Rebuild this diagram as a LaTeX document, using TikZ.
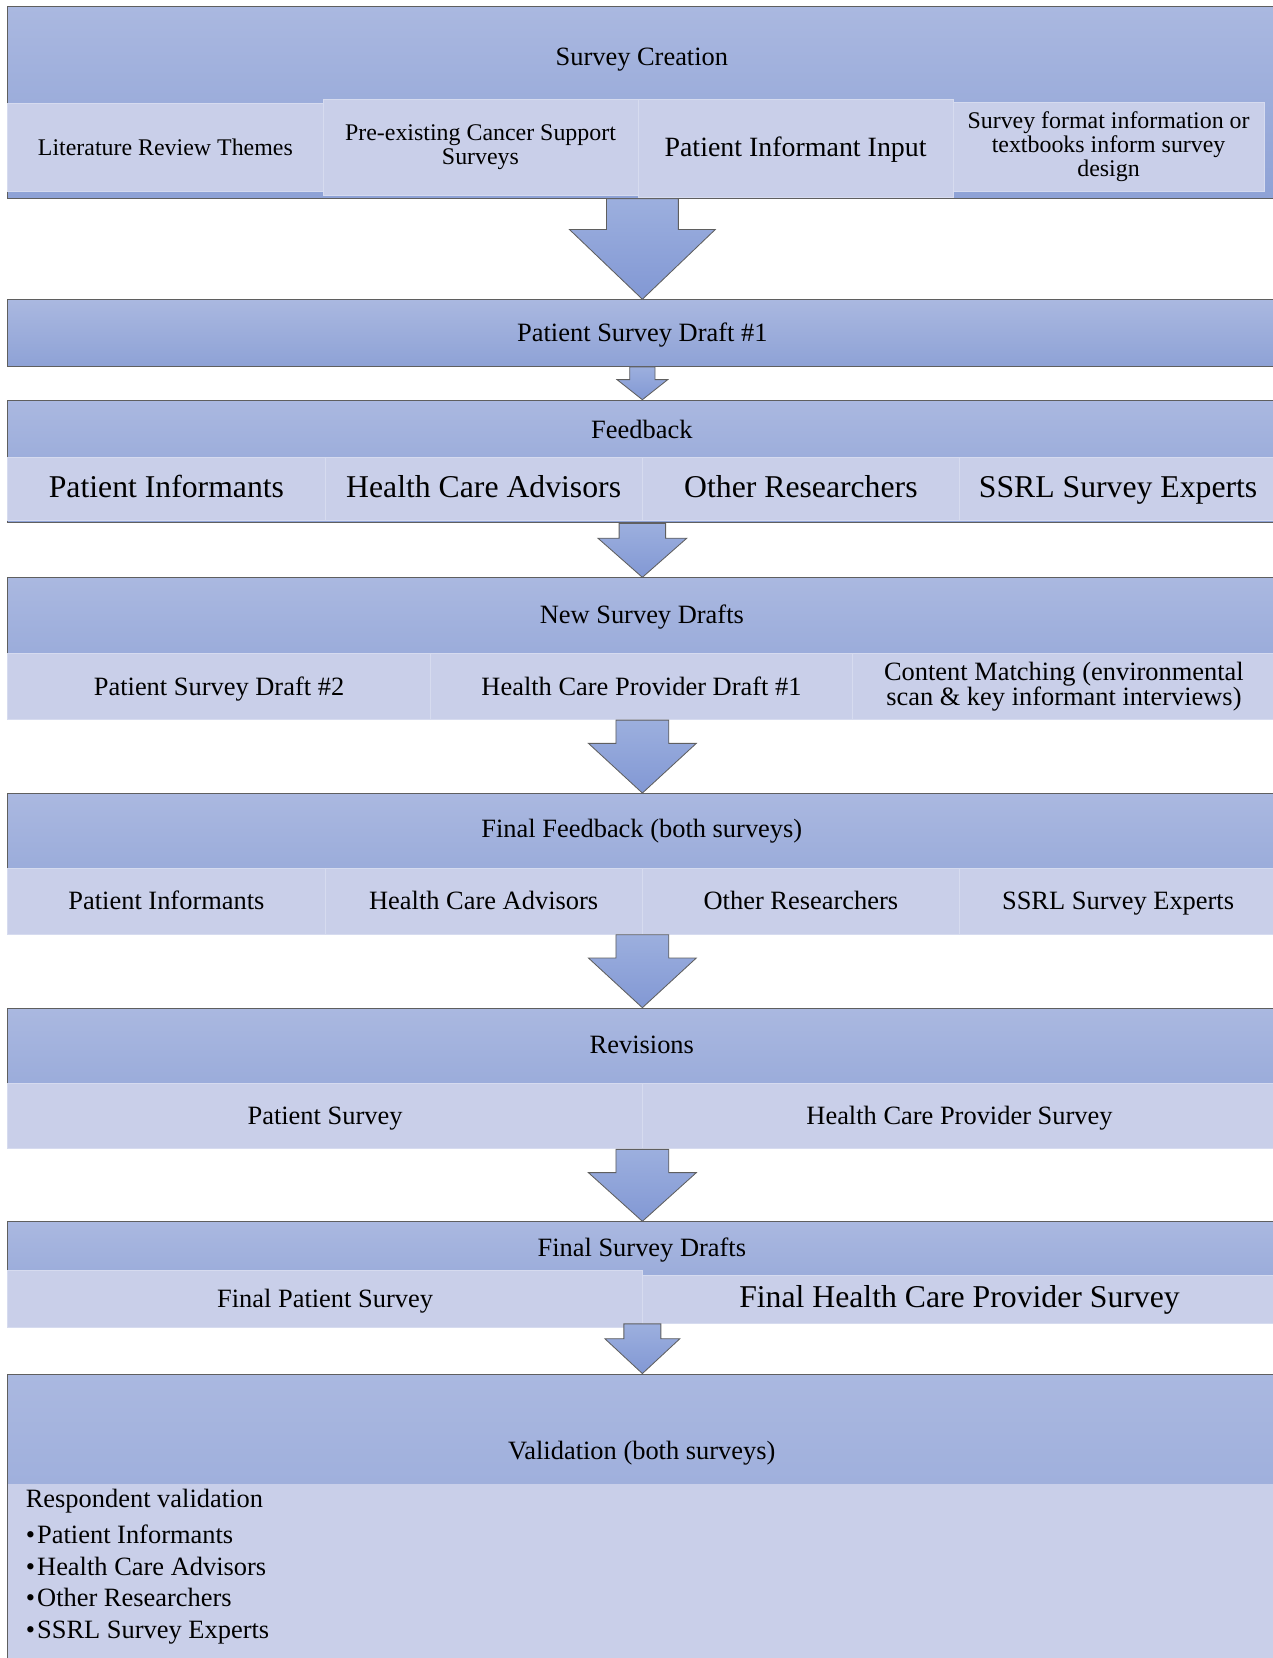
\documentclass[tikz,border=0pt]{standalone}
\usepackage{fontspec}
\setmainfont{Liberation Serif}
\usetikzlibrary{calc}

\definecolor{hdtop}{RGB}{170,184,224}
\definecolor{hdbot}{RGB}{142,162,214}
\definecolor{subfill}{RGB}{201,207,233}
\definecolor{subedge}{RGB}{214,219,239}
\definecolor{arrtop}{RGB}{156,175,222}
\definecolor{arrbot}{RGB}{130,152,212}
\definecolor{edgegray}{RGB}{95,95,95}

\newcommand\fsnorm{\fontsize{12.5}{14}\selectfont}
\newcommand\fsmid{\fontsize{13.2}{15}\selectfont}
\newcommand\fsbig{\fontsize{15}{17}\selectfont}
\newcommand\fssmall{\fontsize{11.3}{11.4}\selectfont}
\newcommand\fslist{\fontsize{12.5}{15}\selectfont}

\tikzset{
  block/.style={rectangle, anchor=north west, draw=edgegray, line width=0.5pt,
    top color=hdtop, bottom color=hdbot, minimum width=600pt, inner sep=0pt},
  subbox/.style={rectangle, anchor=north west, fill=subfill, draw=subedge,
    line width=0.4pt, inner sep=2pt, align=center},
  oneline/.style={text height=2ex, text depth=0.25ex},
  arr/.style={draw=edgegray, line width=0.4pt, top color=arrtop, bottom color=arrbot},
}

\begin{document}
\begin{tikzpicture}[x=0.5pt, y=-0.5pt, font=\fsnorm]
    \useasboundingbox (0,0) rectangle (1203,1568);

    % Survey creation
    \node[block, minimum height=90.5pt] (b1) at (7,6) {};
    \node[oneline] (t1) at (607,54) {Survey Creation};
    \node[subbox, oneline, minimum width=149pt, minimum height=42pt, font=\fssmall] (s11) at (7,97) {Literature Review Themes};
    \node[subbox, minimum width=149pt, minimum height=45pt, font=\fssmall] (s12) at (305,94) {Pre-existing Cancer Support\\Surveys};
    \node[subbox, oneline, minimum width=149pt, minimum height=46pt, font=\fsmid] (s13) at (603,94) {Patient Informant Input};
    \node[subbox, minimum width=147pt, minimum height=42.5pt, font=\fssmall] (s14) at (901,96) {Survey format information or\\textbooks inform survey\\design};

    % Patient survey draft
    \node[block, oneline, minimum height=31.5pt] (b2) at (7,283) {Patient Survey Draft \#1};

    % Feedback
    \node[block, minimum height=58pt] (b3) at (7,378) {};
    \node[oneline] (t3) at (607,407) {Feedback};
    \node[subbox, oneline, minimum width=150pt, minimum height=30pt, font=\fsbig] (s31) at (7,432) {Patient Informants};
    \node[subbox, oneline, minimum width=150pt, minimum height=30pt, font=\fsbig] (s32) at (307,432) {Health Care Advisors};
    \node[subbox, oneline, minimum width=150pt, minimum height=30pt, font=\fsbig] (s33) at (607,432) {Other Researchers};
    \node[subbox, oneline, minimum width=150pt, minimum height=30pt, font=\fsbig] (s34) at (907,432) {SSRL Survey Experts};

    % New survey drafts
    \node[block, minimum height=67pt] (b4) at (7,546) {};
    \node[oneline] (t4) at (607,582) {New Survey Drafts};
    \node[subbox, oneline, minimum width=199.75pt, minimum height=31pt] (s41) at (7,618) {Patient Survey Draft \#2};
    \node[subbox, oneline, minimum width=199.75pt, minimum height=31pt] (s42) at (406.5,618) {Health Care Provider Draft \#1};
    \node[subbox, minimum width=199.75pt, minimum height=31pt, font=\fontsize{12.5}{12}\selectfont] (s43) at (806,618) {Content Matching (environmental\\scan \& key informant interviews)};

    % Final feedback
    \node[block, minimum height=66.5pt] (b5) at (7,750) {};
    \node[oneline] (t5) at (607,784) {Final Feedback (both surveys)};
    \node[subbox, oneline, minimum width=150pt, minimum height=31pt] (s51) at (7,821) {Patient Informants};
    \node[subbox, oneline, minimum width=150pt, minimum height=31pt] (s52) at (307,821) {Health Care Advisors};
    \node[subbox, oneline, minimum width=150pt, minimum height=31pt] (s53) at (607,821) {Other Researchers};
    \node[subbox, oneline, minimum width=150pt, minimum height=31pt] (s54) at (907,821) {SSRL Survey Experts};

    % Revisions
    \node[block, minimum height=66.5pt] (b6) at (7,953) {};
    \node[oneline] (t6) at (607,988) {Revisions};
    \node[subbox, oneline, minimum width=300pt, minimum height=31pt] (s61) at (7,1024) {Patient Survey};
    \node[subbox, oneline, minimum width=300pt, minimum height=31pt] (s62) at (607,1024) {Health Care Provider Survey};

    % Final survey drafts
    \node[block, minimum height=48pt] (b7) at (7,1155) {};
    \node[oneline] (t7) at (607,1180) {Final Survey Drafts};
    \node[subbox, oneline, minimum width=300pt, minimum height=22.5pt, font=\fsbig] (s72) at (607,1206) {Final Health Care Provider Survey};
    \node[subbox, oneline, minimum width=300pt, minimum height=27pt] (s71) at (7,1201) {Final Patient Survey};

    % Validation
    \node[block, minimum height=140pt] (b8) at (7,1299) {};
    \node[oneline] (t8) at (607,1372) {Validation (both surveys)};
    \node[anchor=north west, fill=subfill, minimum width=600pt, minimum height=90pt, inner sep=0pt] (s81) at (7,1403) {};
    \node[anchor=north west, align=left, inner sep=0pt, font=\fslist] (l81) at (24,1408)
      {Respondent validation\\[2pt] •\kern1pt Patient Informants\\ •\kern1pt Health Care Advisors\\ •\kern1pt Other Researchers\\ •\kern1pt SSRL Survey Experts};

    % Arrows
    \draw[arr] ($(b1.south)+(-34,0)$) -- ++(0,29) -- ++(-35,0) -- (b2.north)
      -- ($(b1.south)+(69,29)$) -- ++(-35,0) -- ++(0,-29) -- cycle;
    \draw[arr] ($(b2.south)+(-12,0)$) -- ++(0,12) -- ++(-12,0) -- (b3.north)
      -- ($(b2.south)+(24,12)$) -- ++(-12,0) -- ++(0,-12) -- cycle;
    \draw[arr] ($(b3.south)+(-22,0)$) -- ++(0,14) -- ++(-20,0) -- (b4.north)
      -- ($(b3.south)+(42,14)$) -- ++(-20,0) -- ++(0,-14) -- cycle;
    \draw[arr] ($(b4.south)+(-25,0)$) -- ++(0,22) -- ++(-26,0) -- (b5.north)
      -- ($(b4.south)+(51,22)$) -- ++(-26,0) -- ++(0,-22) -- cycle;
    \draw[arr] ($(b5.south)+(-25,0)$) -- ++(0,22) -- ++(-26,0) -- (b6.north)
      -- ($(b5.south)+(51,22)$) -- ++(-26,0) -- ++(0,-22) -- cycle;
    \draw[arr] ($(b6.south)+(-25,0)$) -- ++(0,22) -- ++(-26,0) -- (b7.north)
      -- ($(b6.south)+(51,22)$) -- ++(-26,0) -- ++(0,-22) -- cycle;
    \draw[arr] ($(b7.south)+(-17.5,0)$) -- ++(0,14) -- ++(-18,0) -- (b8.north)
      -- ($(b7.south)+(35.5,14)$) -- ++(-18,0) -- ++(0,-14) -- cycle;
\end{tikzpicture}
\end{document}
